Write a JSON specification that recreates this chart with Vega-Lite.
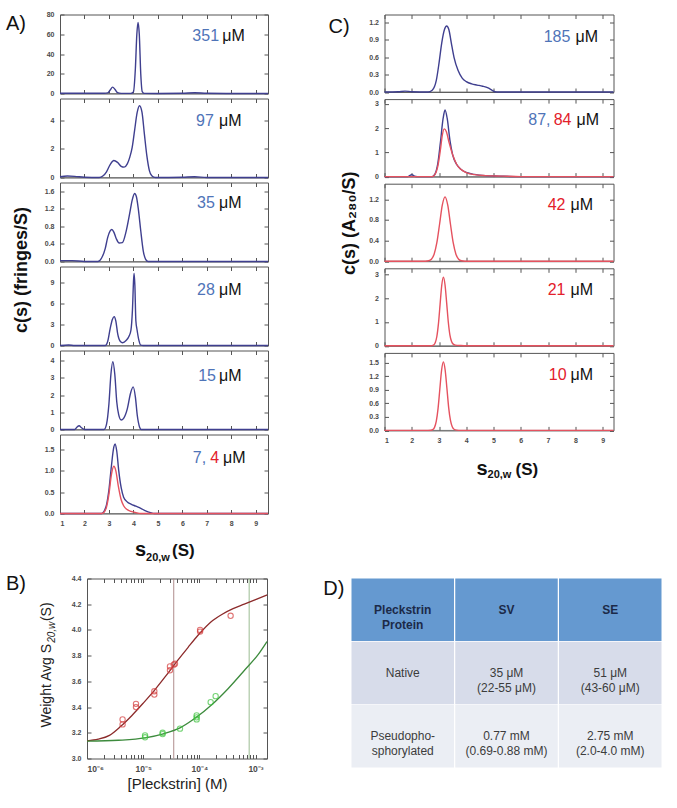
{
  "$schema": "https://vega.github.io/schema/vega-lite/v6.json",
  "padding": {"left": 5, "top": 9.5, "right": 5, "bottom": 5},
  "config": {
    "font": "Liberation Sans",
    "view": {"stroke": "#555", "strokeWidth": 1},
    "axis": {"grid": false, "domain": false, "tickColor": "#555", "tickSize": -4, "tickWidth": 1,
             "labelFontSize": 7, "labelFontWeight": "bold", "labelColor": "#4a4a4a", "labelPadding": 10}
  },
  "resolve": {"scale": {"color": "independent", "stroke": "independent", "fill": "independent"}},
  "datasets": {
    "cs": [
      {"panel":"A1","form":"Native","s":1,"c":0.3},{"panel":"A1","form":"Native","s":1.5,"c":0.3},{"panel":"A1","form":"Native","s":2,"c":0.2},{"panel":"A1","form":"Native","s":2.8,"c":0.2},{"panel":"A1","form":"Native","s":2.95,"c":0.6},{"panel":"A1","form":"Native","s":3.05,"c":3.5},{"panel":"A1","form":"Native","s":3.15,"c":6.5},{"panel":"A1","form":"Native","s":3.25,"c":4},{"panel":"A1","form":"Native","s":3.35,"c":0.8},{"panel":"A1","form":"Native","s":3.5,"c":0.1},{"panel":"A1","form":"Native","s":3.9,"c":0.1},{"panel":"A1","form":"Native","s":4.0,"c":1.5},{"panel":"A1","form":"Native","s":4.08,"c":25},{"panel":"A1","form":"Native","s":4.14,"c":60},{"panel":"A1","form":"Native","s":4.19,"c":72},{"panel":"A1","form":"Native","s":4.24,"c":60},{"panel":"A1","form":"Native","s":4.3,"c":20},{"panel":"A1","form":"Native","s":4.36,"c":2},{"panel":"A1","form":"Native","s":4.45,"c":0.1},{"panel":"A1","form":"Native","s":5,"c":0},{"panel":"A1","form":"Native","s":6,"c":0.2},{"panel":"A1","form":"Native","s":6.5,"c":0.8},{"panel":"A1","form":"Native","s":7,"c":0.2},{"panel":"A1","form":"Native","s":8,"c":0},{"panel":"A1","form":"Native","s":9.5,"c":0},

      {"panel":"A2","form":"Native","s":1,"c":0.05},{"panel":"A2","form":"Native","s":1.3,"c":0.1},{"panel":"A2","form":"Native","s":1.6,"c":0.08},{"panel":"A2","form":"Native","s":2,"c":0.02},{"panel":"A2","form":"Native","s":2.6,"c":0},{"panel":"A2","form":"Native","s":2.75,"c":0.1},{"panel":"A2","form":"Native","s":2.9,"c":0.4},{"panel":"A2","form":"Native","s":3.05,"c":0.9},{"panel":"A2","form":"Native","s":3.2,"c":1.18},{"panel":"A2","form":"Native","s":3.35,"c":1.05},{"panel":"A2","form":"Native","s":3.5,"c":0.78},{"panel":"A2","form":"Native","s":3.62,"c":0.72},{"panel":"A2","form":"Native","s":3.75,"c":0.95},{"panel":"A2","form":"Native","s":3.85,"c":1.4},{"panel":"A2","form":"Native","s":3.95,"c":2.1},{"panel":"A2","form":"Native","s":4.05,"c":3.3},{"panel":"A2","form":"Native","s":4.15,"c":4.5},{"panel":"A2","form":"Native","s":4.25,"c":5.0},{"panel":"A2","form":"Native","s":4.35,"c":4.55},{"panel":"A2","form":"Native","s":4.45,"c":3.0},{"panel":"A2","form":"Native","s":4.55,"c":1.5},{"panel":"A2","form":"Native","s":4.65,"c":0.5},{"panel":"A2","form":"Native","s":4.75,"c":0.12},{"panel":"A2","form":"Native","s":4.9,"c":0},{"panel":"A2","form":"Native","s":6,"c":0.02},{"panel":"A2","form":"Native","s":6.5,"c":0.05},{"panel":"A2","form":"Native","s":7,"c":0},{"panel":"A2","form":"Native","s":9.5,"c":0},

      {"panel":"A3","form":"Native","s":1,"c":0.02},{"panel":"A3","form":"Native","s":1.5,"c":0.02},{"panel":"A3","form":"Native","s":2,"c":0},{"panel":"A3","form":"Native","s":2.55,"c":0},{"panel":"A3","form":"Native","s":2.7,"c":0.08},{"panel":"A3","form":"Native","s":2.85,"c":0.3},{"panel":"A3","form":"Native","s":2.95,"c":0.55},{"panel":"A3","form":"Native","s":3.05,"c":0.7},{"panel":"A3","form":"Native","s":3.12,"c":0.73},{"panel":"A3","form":"Native","s":3.2,"c":0.67},{"panel":"A3","form":"Native","s":3.3,"c":0.52},{"panel":"A3","form":"Native","s":3.42,"c":0.42},{"panel":"A3","form":"Native","s":3.55,"c":0.43},{"panel":"A3","form":"Native","s":3.7,"c":0.68},{"panel":"A3","form":"Native","s":3.85,"c":1.1},{"panel":"A3","form":"Native","s":3.95,"c":1.4},{"panel":"A3","form":"Native","s":4.05,"c":1.55},{"panel":"A3","form":"Native","s":4.12,"c":1.48},{"panel":"A3","form":"Native","s":4.2,"c":1.2},{"panel":"A3","form":"Native","s":4.3,"c":0.7},{"panel":"A3","form":"Native","s":4.4,"c":0.25},{"panel":"A3","form":"Native","s":4.5,"c":0.05},{"panel":"A3","form":"Native","s":4.6,"c":0},{"panel":"A3","form":"Native","s":9.5,"c":0},

      {"panel":"A4","form":"Native","s":1,"c":0},{"panel":"A4","form":"Native","s":1.35,"c":0.08},{"panel":"A4","form":"Native","s":1.6,"c":0},{"panel":"A4","form":"Native","s":2.85,"c":0},{"panel":"A4","form":"Native","s":2.95,"c":0.6},{"panel":"A4","form":"Native","s":3.05,"c":2.4},{"panel":"A4","form":"Native","s":3.14,"c":3.7},{"panel":"A4","form":"Native","s":3.22,"c":4.1},{"panel":"A4","form":"Native","s":3.28,"c":3.5},{"panel":"A4","form":"Native","s":3.36,"c":1.6},{"panel":"A4","form":"Native","s":3.46,"c":0.6},{"panel":"A4","form":"Native","s":3.56,"c":0.4},{"panel":"A4","form":"Native","s":3.7,"c":0.7},{"panel":"A4","form":"Native","s":3.82,"c":1.3},{"panel":"A4","form":"Native","s":3.9,"c":2.2},{"panel":"A4","form":"Native","s":3.96,"c":5.0},{"panel":"A4","form":"Native","s":4.01,"c":9.5},{"panel":"A4","form":"Native","s":4.03,"c":10.2},{"panel":"A4","form":"Native","s":4.06,"c":8.5},{"panel":"A4","form":"Native","s":4.1,"c":3.5},{"panel":"A4","form":"Native","s":4.15,"c":2.2},{"panel":"A4","form":"Native","s":4.22,"c":0.8},{"panel":"A4","form":"Native","s":4.3,"c":0.05},{"panel":"A4","form":"Native","s":4.4,"c":0},{"panel":"A4","form":"Native","s":9.5,"c":0},

      {"panel":"A5","form":"Native","s":1,"c":0},{"panel":"A5","form":"Native","s":1.6,"c":0},{"panel":"A5","form":"Native","s":1.7,"c":0.15},{"panel":"A5","form":"Native","s":1.78,"c":0.22},{"panel":"A5","form":"Native","s":1.88,"c":0.1},{"panel":"A5","form":"Native","s":2.0,"c":0},{"panel":"A5","form":"Native","s":2.8,"c":0},{"panel":"A5","form":"Native","s":2.9,"c":0.3},{"panel":"A5","form":"Native","s":3.0,"c":1.5},{"panel":"A5","form":"Native","s":3.08,"c":3.2},{"panel":"A5","form":"Native","s":3.16,"c":3.95},{"panel":"A5","form":"Native","s":3.24,"c":3.2},{"panel":"A5","form":"Native","s":3.32,"c":1.6},{"panel":"A5","form":"Native","s":3.4,"c":0.85},{"panel":"A5","form":"Native","s":3.5,"c":0.55},{"panel":"A5","form":"Native","s":3.6,"c":0.65},{"panel":"A5","form":"Native","s":3.75,"c":1.2},{"panel":"A5","form":"Native","s":3.88,"c":2.1},{"panel":"A5","form":"Native","s":3.99,"c":2.48},{"panel":"A5","form":"Native","s":4.08,"c":1.9},{"panel":"A5","form":"Native","s":4.16,"c":0.8},{"panel":"A5","form":"Native","s":4.25,"c":0.15},{"panel":"A5","form":"Native","s":4.32,"c":0},{"panel":"A5","form":"Native","s":9.5,"c":0},

      {"panel":"A6","form":"Native","s":1,"c":0},{"panel":"A6","form":"Native","s":2.7,"c":0},{"panel":"A6","form":"Native","s":2.8,"c":0.05},{"panel":"A6","form":"Native","s":2.9,"c":0.2},{"panel":"A6","form":"Native","s":3.0,"c":0.55},{"panel":"A6","form":"Native","s":3.1,"c":1.1},{"panel":"A6","form":"Native","s":3.2,"c":1.55},{"panel":"A6","form":"Native","s":3.25,"c":1.62},{"panel":"A6","form":"Native","s":3.32,"c":1.45},{"panel":"A6","form":"Native","s":3.4,"c":1.0},{"panel":"A6","form":"Native","s":3.5,"c":0.6},{"panel":"A6","form":"Native","s":3.6,"c":0.38},{"panel":"A6","form":"Native","s":3.75,"c":0.27},{"panel":"A6","form":"Native","s":3.9,"c":0.22},{"panel":"A6","form":"Native","s":4.1,"c":0.17},{"panel":"A6","form":"Native","s":4.3,"c":0.12},{"panel":"A6","form":"Native","s":4.5,"c":0.06},{"panel":"A6","form":"Native","s":4.7,"c":0.02},{"panel":"A6","form":"Native","s":4.85,"c":0},{"panel":"A6","form":"Native","s":9.5,"c":0},
      {"panel":"A6","form":"Pseudophosphorylated","s":1,"c":0},{"panel":"A6","form":"Pseudophosphorylated","s":2.7,"c":0},{"panel":"A6","form":"Pseudophosphorylated","s":2.8,"c":0.03},{"panel":"A6","form":"Pseudophosphorylated","s":2.9,"c":0.15},{"panel":"A6","form":"Pseudophosphorylated","s":3.0,"c":0.45},{"panel":"A6","form":"Pseudophosphorylated","s":3.1,"c":0.9},{"panel":"A6","form":"Pseudophosphorylated","s":3.2,"c":1.1},{"panel":"A6","form":"Pseudophosphorylated","s":3.28,"c":1.0},{"panel":"A6","form":"Pseudophosphorylated","s":3.38,"c":0.65},{"panel":"A6","form":"Pseudophosphorylated","s":3.5,"c":0.32},{"panel":"A6","form":"Pseudophosphorylated","s":3.6,"c":0.18},{"panel":"A6","form":"Pseudophosphorylated","s":3.75,"c":0.09},{"panel":"A6","form":"Pseudophosphorylated","s":3.9,"c":0.05},{"panel":"A6","form":"Pseudophosphorylated","s":4.1,"c":0.02},{"panel":"A6","form":"Pseudophosphorylated","s":4.3,"c":0},{"panel":"A6","form":"Pseudophosphorylated","s":9.5,"c":0},

      {"panel":"C1","form":"Native","s":1,"c":0},{"panel":"C1","form":"Native","s":1.5,"c":0.005},{"panel":"C1","form":"Native","s":1.75,"c":0.015},{"panel":"C1","form":"Native","s":2.0,"c":0.005},{"panel":"C1","form":"Native","s":2.6,"c":0},{"panel":"C1","form":"Native","s":2.75,"c":0.03},{"panel":"C1","form":"Native","s":2.9,"c":0.2},{"panel":"C1","form":"Native","s":3.0,"c":0.5},{"panel":"C1","form":"Native","s":3.1,"c":0.85},{"panel":"C1","form":"Native","s":3.2,"c":1.08},{"panel":"C1","form":"Native","s":3.28,"c":1.14},{"panel":"C1","form":"Native","s":3.36,"c":1.08},{"panel":"C1","form":"Native","s":3.45,"c":0.85},{"panel":"C1","form":"Native","s":3.55,"c":0.6},{"panel":"C1","form":"Native","s":3.7,"c":0.37},{"panel":"C1","form":"Native","s":3.85,"c":0.24},{"panel":"C1","form":"Native","s":4.0,"c":0.18},{"panel":"C1","form":"Native","s":4.2,"c":0.14},{"panel":"C1","form":"Native","s":4.4,"c":0.12},{"panel":"C1","form":"Native","s":4.6,"c":0.1},{"panel":"C1","form":"Native","s":4.8,"c":0.07},{"panel":"C1","form":"Native","s":4.95,"c":0.03},{"panel":"C1","form":"Native","s":5.05,"c":0.005},{"panel":"C1","form":"Native","s":5.2,"c":0},{"panel":"C1","form":"Native","s":9.4,"c":0},

      {"panel":"C2","form":"Native","s":1,"c":0},{"panel":"C2","form":"Native","s":1.85,"c":0},{"panel":"C2","form":"Native","s":2.0,"c":0.08},{"panel":"C2","form":"Native","s":2.1,"c":0.02},{"panel":"C2","form":"Native","s":2.2,"c":0},{"panel":"C2","form":"Native","s":2.75,"c":0},{"panel":"C2","form":"Native","s":2.85,"c":0.1},{"panel":"C2","form":"Native","s":2.95,"c":0.5},{"panel":"C2","form":"Native","s":3.05,"c":1.4},{"panel":"C2","form":"Native","s":3.15,"c":2.4},{"panel":"C2","form":"Native","s":3.22,"c":2.75},{"panel":"C2","form":"Native","s":3.3,"c":2.4},{"panel":"C2","form":"Native","s":3.4,"c":1.5},{"panel":"C2","form":"Native","s":3.5,"c":0.9},{"panel":"C2","form":"Native","s":3.65,"c":0.5},{"panel":"C2","form":"Native","s":3.8,"c":0.3},{"panel":"C2","form":"Native","s":4.0,"c":0.17},{"panel":"C2","form":"Native","s":4.3,"c":0.09},{"panel":"C2","form":"Native","s":4.7,"c":0.04},{"panel":"C2","form":"Native","s":5.2,"c":0.02},{"panel":"C2","form":"Native","s":5.8,"c":0},{"panel":"C2","form":"Native","s":9.4,"c":0},
      {"panel":"C2","form":"Pseudophosphorylated","s":1,"c":0},{"panel":"C2","form":"Pseudophosphorylated","s":2.75,"c":0},{"panel":"C2","form":"Pseudophosphorylated","s":2.85,"c":0.08},{"panel":"C2","form":"Pseudophosphorylated","s":2.95,"c":0.4},{"panel":"C2","form":"Pseudophosphorylated","s":3.05,"c":1.1},{"panel":"C2","form":"Pseudophosphorylated","s":3.12,"c":1.7},{"panel":"C2","form":"Pseudophosphorylated","s":3.19,"c":1.97},{"panel":"C2","form":"Pseudophosphorylated","s":3.27,"c":1.85},{"panel":"C2","form":"Pseudophosphorylated","s":3.37,"c":1.4},{"panel":"C2","form":"Pseudophosphorylated","s":3.5,"c":0.9},{"panel":"C2","form":"Pseudophosphorylated","s":3.65,"c":0.5},{"panel":"C2","form":"Pseudophosphorylated","s":3.8,"c":0.3},{"panel":"C2","form":"Pseudophosphorylated","s":4.0,"c":0.16},{"panel":"C2","form":"Pseudophosphorylated","s":4.3,"c":0.08},{"panel":"C2","form":"Pseudophosphorylated","s":4.7,"c":0.04},{"panel":"C2","form":"Pseudophosphorylated","s":5.3,"c":0.02},{"panel":"C2","form":"Pseudophosphorylated","s":6,"c":0},{"panel":"C2","form":"Pseudophosphorylated","s":9.4,"c":0},

      {"panel":"C3","form":"Pseudophosphorylated","s":1,"c":0},{"panel":"C3","form":"Pseudophosphorylated","s":2.5,"c":0},{"panel":"C3","form":"Pseudophosphorylated","s":2.62,"c":0.008},{"panel":"C3","form":"Pseudophosphorylated","s":2.72,"c":0.039},{"panel":"C3","form":"Pseudophosphorylated","s":2.82,"c":0.136},{"panel":"C3","form":"Pseudophosphorylated","s":2.92,"c":0.358},{"panel":"C3","form":"Pseudophosphorylated","s":3.02,"c":0.715},{"panel":"C3","form":"Pseudophosphorylated","s":3.12,"c":1.084},{"panel":"C3","form":"Pseudophosphorylated","s":3.22,"c":1.245},{"panel":"C3","form":"Pseudophosphorylated","s":3.32,"c":1.084},{"panel":"C3","form":"Pseudophosphorylated","s":3.42,"c":0.715},{"panel":"C3","form":"Pseudophosphorylated","s":3.52,"c":0.358},{"panel":"C3","form":"Pseudophosphorylated","s":3.62,"c":0.136},{"panel":"C3","form":"Pseudophosphorylated","s":3.72,"c":0.039},{"panel":"C3","form":"Pseudophosphorylated","s":3.82,"c":0.008},{"panel":"C3","form":"Pseudophosphorylated","s":3.95,"c":0},{"panel":"C3","form":"Pseudophosphorylated","s":9.4,"c":0},

      {"panel":"C4","form":"Pseudophosphorylated","s":1,"c":0},{"panel":"C4","form":"Pseudophosphorylated","s":2.7,"c":0},{"panel":"C4","form":"Pseudophosphorylated","s":2.74,"c":0.01},{"panel":"C4","form":"Pseudophosphorylated","s":2.8,"c":0.032},{"panel":"C4","form":"Pseudophosphorylated","s":2.86,"c":0.127},{"panel":"C4","form":"Pseudophosphorylated","s":2.92,"c":0.39},{"panel":"C4","form":"Pseudophosphorylated","s":2.98,"c":0.94},{"panel":"C4","form":"Pseudophosphorylated","s":3.04,"c":1.75},{"panel":"C4","form":"Pseudophosphorylated","s":3.1,"c":2.54},{"panel":"C4","form":"Pseudophosphorylated","s":3.16,"c":2.88},{"panel":"C4","form":"Pseudophosphorylated","s":3.22,"c":2.56},{"panel":"C4","form":"Pseudophosphorylated","s":3.28,"c":1.8},{"panel":"C4","form":"Pseudophosphorylated","s":3.34,"c":1.0},{"panel":"C4","form":"Pseudophosphorylated","s":3.4,"c":0.45},{"panel":"C4","form":"Pseudophosphorylated","s":3.46,"c":0.18},{"panel":"C4","form":"Pseudophosphorylated","s":3.52,"c":0.07},{"panel":"C4","form":"Pseudophosphorylated","s":3.6,"c":0.03},{"panel":"C4","form":"Pseudophosphorylated","s":3.8,"c":0.01},{"panel":"C4","form":"Pseudophosphorylated","s":4.0,"c":0},{"panel":"C4","form":"Pseudophosphorylated","s":9.4,"c":0},

      {"panel":"C5","form":"Pseudophosphorylated","s":1,"c":0},{"panel":"C5","form":"Pseudophosphorylated","s":2.6,"c":0},{"panel":"C5","form":"Pseudophosphorylated","s":2.7,"c":0.003},{"panel":"C5","form":"Pseudophosphorylated","s":2.77,"c":0.017},{"panel":"C5","form":"Pseudophosphorylated","s":2.835,"c":0.067},{"panel":"C5","form":"Pseudophosphorylated","s":2.9,"c":0.205},{"panel":"C5","form":"Pseudophosphorylated","s":2.965,"c":0.49},{"panel":"C5","form":"Pseudophosphorylated","s":3.03,"c":0.92},{"panel":"C5","form":"Pseudophosphorylated","s":3.095,"c":1.34},{"panel":"C5","form":"Pseudophosphorylated","s":3.16,"c":1.52},{"panel":"C5","form":"Pseudophosphorylated","s":3.225,"c":1.34},{"panel":"C5","form":"Pseudophosphorylated","s":3.29,"c":0.93},{"panel":"C5","form":"Pseudophosphorylated","s":3.355,"c":0.5},{"panel":"C5","form":"Pseudophosphorylated","s":3.42,"c":0.22},{"panel":"C5","form":"Pseudophosphorylated","s":3.485,"c":0.08},{"panel":"C5","form":"Pseudophosphorylated","s":3.55,"c":0.025},{"panel":"C5","form":"Pseudophosphorylated","s":3.65,"c":0.005},{"panel":"C5","form":"Pseudophosphorylated","s":3.8,"c":0},{"panel":"C5","form":"Pseudophosphorylated","s":9.4,"c":0}
    ],
    "tags": [
      {"panel":"A1","part":"num","form":"Native","text":"351","s":7.5,"c":52.7},
      {"panel":"A1","part":"unit","text":"μM","s":7.63,"c":52.7},
      {"panel":"A1","part":"tag","text":"A)","s":-1.207,"c":64.8},
      {"panel":"A2","part":"num","form":"Native","text":"97","s":7.29,"c":3.62},
      {"panel":"A2","part":"unit","text":"μM","s":7.5,"c":3.62},
      {"panel":"A3","part":"num","form":"Native","text":"35","s":7.33,"c":1.21},
      {"panel":"A3","part":"unit","text":"μM","s":7.5,"c":1.21},
      {"panel":"A4","part":"num","form":"Native","text":"28","s":7.33,"c":7.23},
      {"panel":"A4","part":"unit","text":"μM","s":7.5,"c":7.23},
      {"panel":"A5","part":"num","form":"Native","text":"15","s":7.375,"c":2.85},
      {"panel":"A5","part":"unit","text":"μM","s":7.5,"c":2.85},
      {"panel":"A6","part":"num","form":"Native","text":"7,","s":6.97,"c":1.165},
      {"panel":"A6","part":"num","form":"Pseudophosphorylated","text":"4","s":7.5,"c":1.165},
      {"panel":"A6","part":"unit","text":"μM","s":7.66,"c":1.165},
      {"panel":"A6","part":"xs","text":"s","s":4.515,"c":-1.0},
      {"panel":"A6","part":"xsub","text":"20,w","s":4.515,"c":-1.095},
      {"panel":"A6","part":"xunit","text":"(S)","s":5.577,"c":-1.0},
      {"panel":"C1","part":"num","form":"Native","text":"185","s":7.82,"c":0.862},
      {"panel":"C1","part":"unit","text":"μM","s":8.01,"c":0.862},
      {"panel":"C1","part":"tag","text":"C)","s":-1.054,"c":1.027},
      {"panel":"C2","part":"num","form":"Native","text":"87,","s":7.09,"c":2.14},
      {"panel":"C2","part":"num","form":"Pseudophosphorylated","text":"84","s":7.86,"c":2.14},
      {"panel":"C2","part":"unit","text":"μM","s":8.04,"c":2.14},
      {"panel":"C3","part":"num","form":"Pseudophosphorylated","text":"42","s":7.64,"c":0.984},
      {"panel":"C3","part":"unit","text":"μM","s":7.82,"c":0.984},
      {"panel":"C4","part":"num","form":"Pseudophosphorylated","text":"21","s":7.64,"c":2.13},
      {"panel":"C4","part":"unit","text":"μM","s":7.82,"c":2.13},
      {"panel":"C5","part":"num","form":"Pseudophosphorylated","text":"10","s":7.68,"c":1.128},
      {"panel":"C5","part":"unit","text":"μM","s":7.82,"c":1.128},
      {"panel":"C5","part":"xs","text":"s","s":4.78,"c":-0.98},
      {"panel":"C5","part":"xsub","text":"20,w","s":4.78,"c":-1.067},
      {"panel":"C5","part":"xunit","text":"(S)","s":5.805,"c":-0.98}
    ],
    "sw": [
      {"form":"Native","conc":4.3e-6,"sw":3.304},{"form":"Native","conc":4.3e-6,"sw":3.265},
      {"form":"Native","conc":7.45e-6,"sw":3.425},{"form":"Native","conc":7.45e-6,"sw":3.4},
      {"form":"Native","conc":1.58e-5,"sw":3.523},{"form":"Native","conc":1.58e-5,"sw":3.497},
      {"form":"Native","conc":3.0e-5,"sw":3.716},{"form":"Native","conc":3.0e-5,"sw":3.686},
      {"form":"Native","conc":3.68e-5,"sw":3.737},{"form":"Native","conc":3.5e-5,"sw":3.73},
      {"form":"Native","conc":1.03e-4,"sw":4.0},{"form":"Native","conc":1.03e-4,"sw":3.987},
      {"form":"Native","conc":3.6e-4,"sw":4.11},
      {"form":"Pseudophosphorylated","conc":1.08e-5,"sw":3.18},{"form":"Pseudophosphorylated","conc":1.08e-5,"sw":3.165},
      {"form":"Pseudophosphorylated","conc":2.22e-5,"sw":3.2},{"form":"Pseudophosphorylated","conc":2.22e-5,"sw":3.19},
      {"form":"Pseudophosphorylated","conc":4.52e-5,"sw":3.232},
      {"form":"Pseudophosphorylated","conc":8.95e-5,"sw":3.335},{"form":"Pseudophosphorylated","conc":8.95e-5,"sw":3.304},{"form":"Pseudophosphorylated","conc":8.95e-5,"sw":3.32},
      {"form":"Pseudophosphorylated","conc":1.59e-4,"sw":3.438},{"form":"Pseudophosphorylated","conc":1.95e-4,"sw":3.485}
    ],
    "fits": [
      {"form":"Native","conc":1e-6,"sw":3.137},{"form":"Native","conc":1.585e-6,"sw":3.15},{"form":"Native","conc":2.512e-6,"sw":3.18},{"form":"Native","conc":3.981e-6,"sw":3.25},{"form":"Native","conc":6.31e-6,"sw":3.335},{"form":"Native","conc":1e-5,"sw":3.43},{"form":"Native","conc":1.585e-5,"sw":3.53},{"form":"Native","conc":2.512e-5,"sw":3.64},{"form":"Native","conc":3.981e-5,"sw":3.755},{"form":"Native","conc":6.31e-5,"sw":3.865},{"form":"Native","conc":1e-4,"sw":3.97},{"form":"Native","conc":1.585e-4,"sw":4.06},{"form":"Native","conc":2.512e-4,"sw":4.12},{"form":"Native","conc":3.981e-4,"sw":4.165},{"form":"Native","conc":6.31e-4,"sw":4.2},{"form":"Native","conc":1e-3,"sw":4.235},{"form":"Native","conc":1.6e-3,"sw":4.272},
      {"form":"Pseudophosphorylated","conc":1e-6,"sw":3.135},{"form":"Pseudophosphorylated","conc":3.61e-6,"sw":3.142},{"form":"Pseudophosphorylated","conc":1.076e-5,"sw":3.16},{"form":"Pseudophosphorylated","conc":2.28e-5,"sw":3.192},{"form":"Pseudophosphorylated","conc":4.52e-5,"sw":3.238},{"form":"Pseudophosphorylated","conc":8.95e-5,"sw":3.322},{"form":"Pseudophosphorylated","conc":1.66e-4,"sw":3.418},{"form":"Pseudophosphorylated","conc":3.27e-4,"sw":3.545},{"form":"Pseudophosphorylated","conc":6.47e-4,"sw":3.69},{"form":"Pseudophosphorylated","conc":1.12e-3,"sw":3.81},{"form":"Pseudophosphorylated","conc":1.6e-3,"sw":3.91}
    ],
    "table": [
      {"row":"Pleckstrin Protein","col":"Protein","text":"Pleckstrin\nProtein"},
      {"row":"Pleckstrin Protein","col":"SV","text":"SV"},
      {"row":"Pleckstrin Protein","col":"SE","text":"SE"},
      {"row":"Native","col":"Protein","text":"Native"},
      {"row":"Native","col":"SV","text":"35 μM\n(22-55 μM)"},
      {"row":"Native","col":"SE","text":"51 μM\n(43-60 μM)"},
      {"row":"Pseudophosphorylated","col":"Protein","text":"Pseudopho-\nsphorylated"},
      {"row":"Pseudophosphorylated","col":"SV","text":"0.77 mM\n(0.69-0.88 mM)"},
      {"row":"Pseudophosphorylated","col":"SE","text":"2.75 mM\n(2.0-4.0 mM)"}
    ]
  },
  "vconcat": [
    {
      "resolve": {"scale": {"color": "independent", "stroke": "independent", "fill": "independent"}},
      "hconcat": [
        {
          "vconcat": [
            {
              "width": 208, "height": 79,
              "resolve": {"axis": {"x": "independent", "y": "independent"}},
              "layer": [
                {"data": {"values": [{}]}, "mark": {"type": "rule", "color": "#707070", "strokeWidth": 0.8}, "encoding": {"y": {"datum": 0, "type": "quantitative", "axis": null}}},
                {"data": {"name": "cs"}, "transform": [{"filter": "datum.panel === 'A1'"}], "mark": {"type": "line", "strokeWidth": 1.4, "interpolate": "monotone"},
                 "encoding": {"x": {"field": "s", "type": "quantitative", "scale": {"domain": [1, 9.5], "nice": false, "zero": false}, "axis": {"orient": "bottom", "values": [1,2,3,4,5,6,7,8,9], "labels": false, "title": null}},
                              "y": {"field": "c", "type": "quantitative", "scale": {"domain": [0, 80], "nice": false}, "axis": {"orient": "left", "values": [0,20,40,60,80], "title": null}},
                              "color": {"field": "form", "type": "nominal", "scale": {"domain": ["Native","Pseudophosphorylated"], "range": ["#3f3f8f","#e5525f"]}, "legend": null}}},
                {"data": {"name": "tags"}, "transform": [{"filter": "datum.panel === 'A1' && datum.part === 'num'"}], "mark": {"type": "text", "align": "right", "baseline": "alphabetic", "fontSize": 16},
                 "encoding": {"x": {"field": "s", "type": "quantitative", "axis": {"orient": "top", "values": [1,2,3,4,5,6,7,8,9], "labels": false, "title": null}},
                              "y": {"field": "c", "type": "quantitative", "axis": {"orient": "right", "values": [0,20,40,60,80], "labels": false, "title": null}},
                              "text": {"field": "text", "type": "nominal"},
                              "fill": {"field": "form", "type": "nominal", "scale": {"domain": ["Native","Pseudophosphorylated"], "range": ["#4f74b8","#e3202b"]}, "legend": null}}},
                {"data": {"name": "tags"}, "transform": [{"filter": "datum.panel === 'A1' && datum.part === 'unit'"}], "mark": {"type": "text", "align": "left", "baseline": "alphabetic", "fontSize": 16, "color": "#111"},
                 "encoding": {"x": {"field": "s", "type": "quantitative", "axis": null}, "y": {"field": "c", "type": "quantitative", "axis": null}, "text": {"field": "text", "type": "nominal"}}},
                {"data": {"name": "tags"}, "transform": [{"filter": "datum.panel === 'A1' && datum.part === 'tag'"}], "mark": {"type": "text", "align": "left", "baseline": "alphabetic", "fontSize": 20, "color": "#111"},
                 "encoding": {"x": {"field": "s", "type": "quantitative", "axis": null}, "y": {"field": "c", "type": "quantitative", "axis": null}, "text": {"field": "text", "type": "nominal"}}}
              ]
            },
            {
              "width": 208, "height": 79,
              "resolve": {"axis": {"x": "independent", "y": "independent"}},
              "layer": [
                {"data": {"values": [{}]}, "mark": {"type": "rule", "color": "#707070", "strokeWidth": 0.8}, "encoding": {"y": {"datum": 0, "type": "quantitative", "axis": null}}},
                {"data": {"name": "cs"}, "transform": [{"filter": "datum.panel === 'A2'"}], "mark": {"type": "line", "strokeWidth": 1.4, "interpolate": "monotone"},
                 "encoding": {"x": {"field": "s", "type": "quantitative", "scale": {"domain": [1, 9.5], "nice": false, "zero": false}, "axis": {"orient": "bottom", "values": [1,2,3,4,5,6,7,8,9], "labels": false, "title": null}},
                              "y": {"field": "c", "type": "quantitative", "scale": {"domain": [0, 5.5], "nice": false}, "axis": {"orient": "left", "values": [0,2,4], "title": null}},
                              "color": {"field": "form", "type": "nominal", "scale": {"domain": ["Native","Pseudophosphorylated"], "range": ["#3f3f8f","#e5525f"]}, "legend": null}}},
                {"data": {"name": "tags"}, "transform": [{"filter": "datum.panel === 'A2' && datum.part === 'num'"}], "mark": {"type": "text", "align": "right", "baseline": "alphabetic", "fontSize": 16},
                 "encoding": {"x": {"field": "s", "type": "quantitative", "axis": {"orient": "top", "values": [1,2,3,4,5,6,7,8,9], "labels": false, "title": null}},
                              "y": {"field": "c", "type": "quantitative", "axis": {"orient": "right", "values": [0,2,4], "labels": false, "title": null}},
                              "text": {"field": "text", "type": "nominal"},
                              "fill": {"field": "form", "type": "nominal", "scale": {"domain": ["Native","Pseudophosphorylated"], "range": ["#4f74b8","#e3202b"]}, "legend": null}}},
                {"data": {"name": "tags"}, "transform": [{"filter": "datum.panel === 'A2' && datum.part === 'unit'"}], "mark": {"type": "text", "align": "left", "baseline": "alphabetic", "fontSize": 16, "color": "#111"},
                 "encoding": {"x": {"field": "s", "type": "quantitative", "axis": null}, "y": {"field": "c", "type": "quantitative", "axis": null}, "text": {"field": "text", "type": "nominal"}}}
              ]
            },
            {
              "width": 208, "height": 79,
              "resolve": {"axis": {"x": "independent", "y": "independent"}},
              "layer": [
                {"data": {"values": [{}]}, "mark": {"type": "rule", "color": "#707070", "strokeWidth": 0.8}, "encoding": {"y": {"datum": 0, "type": "quantitative", "axis": null}}},
                {"data": {"name": "cs"}, "transform": [{"filter": "datum.panel === 'A3'"}], "mark": {"type": "line", "strokeWidth": 1.4, "interpolate": "monotone"},
                 "encoding": {"x": {"field": "s", "type": "quantitative", "scale": {"domain": [1, 9.5], "nice": false, "zero": false}, "axis": {"orient": "bottom", "values": [1,2,3,4,5,6,7,8,9], "labels": false, "title": null}},
                              "y": {"field": "c", "type": "quantitative", "scale": {"domain": [0, 1.8], "nice": false}, "axis": {"orient": "left", "values": [0,0.4,0.8,1.2,1.6], "format": ".1f", "title": "c(s) (fringes/S)", "titleFontSize": 18, "titleFontWeight": "bold", "titleColor": "#111", "titleX": -30, "titleY": 87, "titleAngle": 270, "titleAlign": "center", "titleBaseline": "bottom"}},
                              "color": {"field": "form", "type": "nominal", "scale": {"domain": ["Native","Pseudophosphorylated"], "range": ["#3f3f8f","#e5525f"]}, "legend": null}}},
                {"data": {"name": "tags"}, "transform": [{"filter": "datum.panel === 'A3' && datum.part === 'num'"}], "mark": {"type": "text", "align": "right", "baseline": "alphabetic", "fontSize": 16},
                 "encoding": {"x": {"field": "s", "type": "quantitative", "axis": {"orient": "top", "values": [1,2,3,4,5,6,7,8,9], "labels": false, "title": null}},
                              "y": {"field": "c", "type": "quantitative", "axis": {"orient": "right", "values": [0,0.4,0.8,1.2,1.6], "labels": false, "title": null}},
                              "text": {"field": "text", "type": "nominal"},
                              "fill": {"field": "form", "type": "nominal", "scale": {"domain": ["Native","Pseudophosphorylated"], "range": ["#4f74b8","#e3202b"]}, "legend": null}}},
                {"data": {"name": "tags"}, "transform": [{"filter": "datum.panel === 'A3' && datum.part === 'unit'"}], "mark": {"type": "text", "align": "left", "baseline": "alphabetic", "fontSize": 16, "color": "#111"},
                 "encoding": {"x": {"field": "s", "type": "quantitative", "axis": null}, "y": {"field": "c", "type": "quantitative", "axis": null}, "text": {"field": "text", "type": "nominal"}}}
              ]
            },
            {
              "width": 208, "height": 79,
              "resolve": {"axis": {"x": "independent", "y": "independent"}},
              "layer": [
                {"data": {"values": [{}]}, "mark": {"type": "rule", "color": "#707070", "strokeWidth": 0.8}, "encoding": {"y": {"datum": 0, "type": "quantitative", "axis": null}}},
                {"data": {"name": "cs"}, "transform": [{"filter": "datum.panel === 'A4'"}], "mark": {"type": "line", "strokeWidth": 1.4, "interpolate": "monotone"},
                 "encoding": {"x": {"field": "s", "type": "quantitative", "scale": {"domain": [1, 9.5], "nice": false, "zero": false}, "axis": {"orient": "bottom", "values": [1,2,3,4,5,6,7,8,9], "labels": false, "title": null}},
                              "y": {"field": "c", "type": "quantitative", "scale": {"domain": [0, 11.2], "nice": false}, "axis": {"orient": "left", "values": [0,3,6,9], "title": null}},
                              "color": {"field": "form", "type": "nominal", "scale": {"domain": ["Native","Pseudophosphorylated"], "range": ["#3f3f8f","#e5525f"]}, "legend": null}}},
                {"data": {"name": "tags"}, "transform": [{"filter": "datum.panel === 'A4' && datum.part === 'num'"}], "mark": {"type": "text", "align": "right", "baseline": "alphabetic", "fontSize": 16},
                 "encoding": {"x": {"field": "s", "type": "quantitative", "axis": {"orient": "top", "values": [1,2,3,4,5,6,7,8,9], "labels": false, "title": null}},
                              "y": {"field": "c", "type": "quantitative", "axis": {"orient": "right", "values": [0,3,6,9], "labels": false, "title": null}},
                              "text": {"field": "text", "type": "nominal"},
                              "fill": {"field": "form", "type": "nominal", "scale": {"domain": ["Native","Pseudophosphorylated"], "range": ["#4f74b8","#e3202b"]}, "legend": null}}},
                {"data": {"name": "tags"}, "transform": [{"filter": "datum.panel === 'A4' && datum.part === 'unit'"}], "mark": {"type": "text", "align": "left", "baseline": "alphabetic", "fontSize": 16, "color": "#111"},
                 "encoding": {"x": {"field": "s", "type": "quantitative", "axis": null}, "y": {"field": "c", "type": "quantitative", "axis": null}, "text": {"field": "text", "type": "nominal"}}}
              ]
            },
            {
              "width": 208, "height": 79,
              "resolve": {"axis": {"x": "independent", "y": "independent"}},
              "layer": [
                {"data": {"values": [{}]}, "mark": {"type": "rule", "color": "#707070", "strokeWidth": 0.8}, "encoding": {"y": {"datum": 0, "type": "quantitative", "axis": null}}},
                {"data": {"name": "cs"}, "transform": [{"filter": "datum.panel === 'A5'"}], "mark": {"type": "line", "strokeWidth": 1.4, "interpolate": "monotone"},
                 "encoding": {"x": {"field": "s", "type": "quantitative", "scale": {"domain": [1, 9.5], "nice": false, "zero": false}, "axis": {"orient": "bottom", "values": [1,2,3,4,5,6,7,8,9], "labels": false, "title": null}},
                              "y": {"field": "c", "type": "quantitative", "scale": {"domain": [0, 4.6], "nice": false}, "axis": {"orient": "left", "values": [0,1,2,3,4], "title": null}},
                              "color": {"field": "form", "type": "nominal", "scale": {"domain": ["Native","Pseudophosphorylated"], "range": ["#3f3f8f","#e5525f"]}, "legend": null}}},
                {"data": {"name": "tags"}, "transform": [{"filter": "datum.panel === 'A5' && datum.part === 'num'"}], "mark": {"type": "text", "align": "right", "baseline": "alphabetic", "fontSize": 16},
                 "encoding": {"x": {"field": "s", "type": "quantitative", "axis": {"orient": "top", "values": [1,2,3,4,5,6,7,8,9], "labels": false, "title": null}},
                              "y": {"field": "c", "type": "quantitative", "axis": {"orient": "right", "values": [0,1,2,3,4], "labels": false, "title": null}},
                              "text": {"field": "text", "type": "nominal"},
                              "fill": {"field": "form", "type": "nominal", "scale": {"domain": ["Native","Pseudophosphorylated"], "range": ["#4f74b8","#e3202b"]}, "legend": null}}},
                {"data": {"name": "tags"}, "transform": [{"filter": "datum.panel === 'A5' && datum.part === 'unit'"}], "mark": {"type": "text", "align": "left", "baseline": "alphabetic", "fontSize": 16, "color": "#111"},
                 "encoding": {"x": {"field": "s", "type": "quantitative", "axis": null}, "y": {"field": "c", "type": "quantitative", "axis": null}, "text": {"field": "text", "type": "nominal"}}}
              ]
            },
            {
              "width": 208, "height": 79,
              "resolve": {"axis": {"x": "independent", "y": "independent"}},
              "layer": [
                {"data": {"values": [{}]}, "mark": {"type": "rule", "color": "#707070", "strokeWidth": 0.8}, "encoding": {"y": {"datum": 0, "type": "quantitative", "axis": null}}},
                {"data": {"name": "cs"}, "transform": [{"filter": "datum.panel === 'A6'"}], "mark": {"type": "line", "strokeWidth": 1.4, "interpolate": "monotone"},
                 "encoding": {"x": {"field": "s", "type": "quantitative", "scale": {"domain": [1, 9.5], "nice": false, "zero": false}, "axis": {"orient": "bottom", "values": [1,2,3,4,5,6,7,8,9], "labels": true, "title": null}},
                              "y": {"field": "c", "type": "quantitative", "scale": {"domain": [0, 1.84], "nice": false}, "axis": {"orient": "left", "values": [0,0.5,1,1.5], "format": ".1f", "title": null}},
                              "color": {"field": "form", "type": "nominal", "scale": {"domain": ["Native","Pseudophosphorylated"], "range": ["#3f3f8f","#e5525f"]}, "legend": null}}},
                {"data": {"name": "tags"}, "transform": [{"filter": "datum.panel === 'A6' && datum.part === 'num'"}], "mark": {"type": "text", "align": "right", "baseline": "alphabetic", "fontSize": 16},
                 "encoding": {"x": {"field": "s", "type": "quantitative", "axis": {"orient": "top", "values": [1,2,3,4,5,6,7,8,9], "labels": false, "title": null}},
                              "y": {"field": "c", "type": "quantitative", "axis": {"orient": "right", "values": [0,0.5,1,1.5], "labels": false, "title": null}},
                              "text": {"field": "text", "type": "nominal"},
                              "fill": {"field": "form", "type": "nominal", "scale": {"domain": ["Native","Pseudophosphorylated"], "range": ["#4f74b8","#e3202b"]}, "legend": null}}},
                {"data": {"name": "tags"}, "transform": [{"filter": "datum.panel === 'A6' && datum.part === 'unit'"}], "mark": {"type": "text", "align": "left", "baseline": "alphabetic", "fontSize": 16, "color": "#111"},
                 "encoding": {"x": {"field": "s", "type": "quantitative", "axis": null}, "y": {"field": "c", "type": "quantitative", "axis": null}, "text": {"field": "text", "type": "nominal"}}},
                {"data": {"name": "tags"}, "transform": [{"filter": "datum.panel === 'A6' && datum.part === 'xs'"}], "mark": {"type": "text", "align": "right", "baseline": "alphabetic", "fontSize": 20, "fontWeight": "bold", "color": "#111"},
                 "encoding": {"x": {"field": "s", "type": "quantitative", "axis": null}, "y": {"field": "c", "type": "quantitative", "axis": null}, "text": {"field": "text", "type": "nominal"}}},
                {"data": {"name": "tags"}, "transform": [{"filter": "datum.panel === 'A6' && datum.part === 'xsub'"}], "mark": {"type": "text", "align": "left", "baseline": "alphabetic", "fontSize": 11, "fontWeight": "bold", "color": "#111"},
                 "encoding": {"x": {"field": "s", "type": "quantitative", "axis": null}, "y": {"field": "c", "type": "quantitative", "axis": null}, "text": {"field": "text", "type": "nominal"}}},
                {"data": {"name": "tags"}, "transform": [{"filter": "datum.panel === 'A6' && datum.part === 'xunit'"}], "mark": {"type": "text", "align": "left", "baseline": "alphabetic", "fontSize": 17, "fontWeight": "bold", "color": "#111"},
                 "encoding": {"x": {"field": "s", "type": "quantitative", "axis": null}, "y": {"field": "c", "type": "quantitative", "axis": null}, "text": {"field": "text", "type": "nominal"}}}
              ]
            }
          ],
          "spacing": 5,
          "bounds": "flush"
        },
        {
          "vconcat": [
            {
              "width": 229, "height": 77.5,
              "resolve": {"axis": {"x": "independent", "y": "independent"}},
              "layer": [
                {"data": {"values": [{}]}, "mark": {"type": "rule", "color": "#707070", "strokeWidth": 0.8}, "encoding": {"y": {"datum": 0, "type": "quantitative", "axis": null}}},
                {"data": {"name": "cs"}, "transform": [{"filter": "datum.panel === 'C1'"}], "mark": {"type": "line", "strokeWidth": 1.4, "interpolate": "monotone"},
                 "encoding": {"x": {"field": "s", "type": "quantitative", "scale": {"domain": [1, 9.4], "nice": false, "zero": false}, "axis": {"orient": "bottom", "values": [1,2,3,4,5,6,7,8,9], "labels": false, "title": null}},
                              "y": {"field": "c", "type": "quantitative", "scale": {"domain": [0, 1.34], "nice": false}, "axis": {"orient": "left", "values": [0,0.3,0.6,0.9,1.2], "format": ".1f", "title": null}},
                              "color": {"field": "form", "type": "nominal", "scale": {"domain": ["Native","Pseudophosphorylated"], "range": ["#3f3f8f","#e5525f"]}, "legend": null}}},
                {"data": {"name": "tags"}, "transform": [{"filter": "datum.panel === 'C1' && datum.part === 'num'"}], "mark": {"type": "text", "align": "right", "baseline": "alphabetic", "fontSize": 16},
                 "encoding": {"x": {"field": "s", "type": "quantitative", "axis": {"orient": "top", "values": [1,2,3,4,5,6,7,8,9], "labels": false, "title": null}},
                              "y": {"field": "c", "type": "quantitative", "axis": {"orient": "right", "values": [0,0.3,0.6,0.9,1.2], "labels": false, "title": null}},
                              "text": {"field": "text", "type": "nominal"},
                              "fill": {"field": "form", "type": "nominal", "scale": {"domain": ["Native","Pseudophosphorylated"], "range": ["#4f74b8","#e3202b"]}, "legend": null}}},
                {"data": {"name": "tags"}, "transform": [{"filter": "datum.panel === 'C1' && datum.part === 'unit'"}], "mark": {"type": "text", "align": "left", "baseline": "alphabetic", "fontSize": 16, "color": "#111"},
                 "encoding": {"x": {"field": "s", "type": "quantitative", "axis": null}, "y": {"field": "c", "type": "quantitative", "axis": null}, "text": {"field": "text", "type": "nominal"}}},
                {"data": {"name": "tags"}, "transform": [{"filter": "datum.panel === 'C1' && datum.part === 'tag'"}], "mark": {"type": "text", "align": "left", "baseline": "alphabetic", "fontSize": 20, "color": "#111"},
                 "encoding": {"x": {"field": "s", "type": "quantitative", "axis": null}, "y": {"field": "c", "type": "quantitative", "axis": null}, "text": {"field": "text", "type": "nominal"}}}
              ]
            },
            {
              "width": 229, "height": 77.5,
              "resolve": {"axis": {"x": "independent", "y": "independent"}},
              "layer": [
                {"data": {"values": [{}]}, "mark": {"type": "rule", "color": "#707070", "strokeWidth": 0.8}, "encoding": {"y": {"datum": 0, "type": "quantitative", "axis": null}}},
                {"data": {"name": "cs"}, "transform": [{"filter": "datum.panel === 'C2'"}], "mark": {"type": "line", "strokeWidth": 1.4, "interpolate": "monotone"},
                 "encoding": {"x": {"field": "s", "type": "quantitative", "scale": {"domain": [1, 9.4], "nice": false, "zero": false}, "axis": {"orient": "bottom", "values": [1,2,3,4,5,6,7,8,9], "labels": false, "title": null}},
                              "y": {"field": "c", "type": "quantitative", "scale": {"domain": [0, 3.2], "nice": false}, "axis": {"orient": "left", "values": [0,1,2,3], "title": null}},
                              "color": {"field": "form", "type": "nominal", "scale": {"domain": ["Native","Pseudophosphorylated"], "range": ["#3f3f8f","#e5525f"]}, "legend": null}}},
                {"data": {"name": "tags"}, "transform": [{"filter": "datum.panel === 'C2' && datum.part === 'num'"}], "mark": {"type": "text", "align": "right", "baseline": "alphabetic", "fontSize": 16},
                 "encoding": {"x": {"field": "s", "type": "quantitative", "axis": {"orient": "top", "values": [1,2,3,4,5,6,7,8,9], "labels": false, "title": null}},
                              "y": {"field": "c", "type": "quantitative", "axis": {"orient": "right", "values": [0,1,2,3], "labels": false, "title": null}},
                              "text": {"field": "text", "type": "nominal"},
                              "fill": {"field": "form", "type": "nominal", "scale": {"domain": ["Native","Pseudophosphorylated"], "range": ["#4f74b8","#e3202b"]}, "legend": null}}},
                {"data": {"name": "tags"}, "transform": [{"filter": "datum.panel === 'C2' && datum.part === 'unit'"}], "mark": {"type": "text", "align": "left", "baseline": "alphabetic", "fontSize": 16, "color": "#111"},
                 "encoding": {"x": {"field": "s", "type": "quantitative", "axis": null}, "y": {"field": "c", "type": "quantitative", "axis": null}, "text": {"field": "text", "type": "nominal"}}}
              ]
            },
            {
              "width": 229, "height": 77.5,
              "resolve": {"axis": {"x": "independent", "y": "independent"}},
              "layer": [
                {"data": {"values": [{}]}, "mark": {"type": "rule", "color": "#707070", "strokeWidth": 0.8}, "encoding": {"y": {"datum": 0, "type": "quantitative", "axis": null}}},
                {"data": {"name": "cs"}, "transform": [{"filter": "datum.panel === 'C3'"}], "mark": {"type": "line", "strokeWidth": 1.4, "interpolate": "monotone"},
                 "encoding": {"x": {"field": "s", "type": "quantitative", "scale": {"domain": [1, 9.4], "nice": false, "zero": false}, "axis": {"orient": "bottom", "values": [1,2,3,4,5,6,7,8,9], "labels": false, "title": null}},
                              "y": {"field": "c", "type": "quantitative", "scale": {"domain": [0, 1.5], "nice": false}, "axis": {"orient": "left", "values": [0,0.4,0.8,1.2], "format": ".1f", "title": "c(s) (A₂₈₀/S)", "titleFontSize": 18, "titleFontWeight": "bold", "titleColor": "#111", "titleX": -26, "titleY": 39, "titleAngle": 270, "titleAlign": "center", "titleBaseline": "bottom"}},
                              "color": {"field": "form", "type": "nominal", "scale": {"domain": ["Native","Pseudophosphorylated"], "range": ["#3f3f8f","#e5525f"]}, "legend": null}}},
                {"data": {"name": "tags"}, "transform": [{"filter": "datum.panel === 'C3' && datum.part === 'num'"}], "mark": {"type": "text", "align": "right", "baseline": "alphabetic", "fontSize": 16},
                 "encoding": {"x": {"field": "s", "type": "quantitative", "axis": {"orient": "top", "values": [1,2,3,4,5,6,7,8,9], "labels": false, "title": null}},
                              "y": {"field": "c", "type": "quantitative", "axis": {"orient": "right", "values": [0,0.4,0.8,1.2], "labels": false, "title": null}},
                              "text": {"field": "text", "type": "nominal"},
                              "fill": {"field": "form", "type": "nominal", "scale": {"domain": ["Native","Pseudophosphorylated"], "range": ["#4f74b8","#e3202b"]}, "legend": null}}},
                {"data": {"name": "tags"}, "transform": [{"filter": "datum.panel === 'C3' && datum.part === 'unit'"}], "mark": {"type": "text", "align": "left", "baseline": "alphabetic", "fontSize": 16, "color": "#111"},
                 "encoding": {"x": {"field": "s", "type": "quantitative", "axis": null}, "y": {"field": "c", "type": "quantitative", "axis": null}, "text": {"field": "text", "type": "nominal"}}}
              ]
            },
            {
              "width": 229, "height": 77.5,
              "resolve": {"axis": {"x": "independent", "y": "independent"}},
              "layer": [
                {"data": {"values": [{}]}, "mark": {"type": "rule", "color": "#707070", "strokeWidth": 0.8}, "encoding": {"y": {"datum": 0, "type": "quantitative", "axis": null}}},
                {"data": {"name": "cs"}, "transform": [{"filter": "datum.panel === 'C4'"}], "mark": {"type": "line", "strokeWidth": 1.4, "interpolate": "monotone"},
                 "encoding": {"x": {"field": "s", "type": "quantitative", "scale": {"domain": [1, 9.4], "nice": false, "zero": false}, "axis": {"orient": "bottom", "values": [1,2,3,4,5,6,7,8,9], "labels": false, "title": null}},
                              "y": {"field": "c", "type": "quantitative", "scale": {"domain": [0, 3.25], "nice": false}, "axis": {"orient": "left", "values": [0,1,2,3], "title": null}},
                              "color": {"field": "form", "type": "nominal", "scale": {"domain": ["Native","Pseudophosphorylated"], "range": ["#3f3f8f","#e5525f"]}, "legend": null}}},
                {"data": {"name": "tags"}, "transform": [{"filter": "datum.panel === 'C4' && datum.part === 'num'"}], "mark": {"type": "text", "align": "right", "baseline": "alphabetic", "fontSize": 16},
                 "encoding": {"x": {"field": "s", "type": "quantitative", "axis": {"orient": "top", "values": [1,2,3,4,5,6,7,8,9], "labels": false, "title": null}},
                              "y": {"field": "c", "type": "quantitative", "axis": {"orient": "right", "values": [0,1,2,3], "labels": false, "title": null}},
                              "text": {"field": "text", "type": "nominal"},
                              "fill": {"field": "form", "type": "nominal", "scale": {"domain": ["Native","Pseudophosphorylated"], "range": ["#4f74b8","#e3202b"]}, "legend": null}}},
                {"data": {"name": "tags"}, "transform": [{"filter": "datum.panel === 'C4' && datum.part === 'unit'"}], "mark": {"type": "text", "align": "left", "baseline": "alphabetic", "fontSize": 16, "color": "#111"},
                 "encoding": {"x": {"field": "s", "type": "quantitative", "axis": null}, "y": {"field": "c", "type": "quantitative", "axis": null}, "text": {"field": "text", "type": "nominal"}}}
              ]
            },
            {
              "width": 229, "height": 77.5,
              "resolve": {"axis": {"x": "independent", "y": "independent"}},
              "layer": [
                {"data": {"values": [{}]}, "mark": {"type": "rule", "color": "#707070", "strokeWidth": 0.8}, "encoding": {"y": {"datum": 0, "type": "quantitative", "axis": null}}},
                {"data": {"name": "cs"}, "transform": [{"filter": "datum.panel === 'C5'"}], "mark": {"type": "line", "strokeWidth": 1.4, "interpolate": "monotone"},
                 "encoding": {"x": {"field": "s", "type": "quantitative", "scale": {"domain": [1, 9.4], "nice": false, "zero": false}, "axis": {"orient": "bottom", "values": [1,2,3,4,5,6,7,8,9], "labels": true, "title": null}},
                              "y": {"field": "c", "type": "quantitative", "scale": {"domain": [0, 1.72], "nice": false}, "axis": {"orient": "left", "values": [0,0.3,0.6,0.9,1.2,1.5], "format": ".1f", "title": null}},
                              "color": {"field": "form", "type": "nominal", "scale": {"domain": ["Native","Pseudophosphorylated"], "range": ["#3f3f8f","#e5525f"]}, "legend": null}}},
                {"data": {"name": "tags"}, "transform": [{"filter": "datum.panel === 'C5' && datum.part === 'num'"}], "mark": {"type": "text", "align": "right", "baseline": "alphabetic", "fontSize": 16},
                 "encoding": {"x": {"field": "s", "type": "quantitative", "axis": {"orient": "top", "values": [1,2,3,4,5,6,7,8,9], "labels": false, "title": null}},
                              "y": {"field": "c", "type": "quantitative", "axis": {"orient": "right", "values": [0,0.3,0.6,0.9,1.2,1.5], "labels": false, "title": null}},
                              "text": {"field": "text", "type": "nominal"},
                              "fill": {"field": "form", "type": "nominal", "scale": {"domain": ["Native","Pseudophosphorylated"], "range": ["#4f74b8","#e3202b"]}, "legend": null}}},
                {"data": {"name": "tags"}, "transform": [{"filter": "datum.panel === 'C5' && datum.part === 'unit'"}], "mark": {"type": "text", "align": "left", "baseline": "alphabetic", "fontSize": 16, "color": "#111"},
                 "encoding": {"x": {"field": "s", "type": "quantitative", "axis": null}, "y": {"field": "c", "type": "quantitative", "axis": null}, "text": {"field": "text", "type": "nominal"}}},
                {"data": {"name": "tags"}, "transform": [{"filter": "datum.panel === 'C5' && datum.part === 'xs'"}], "mark": {"type": "text", "align": "right", "baseline": "alphabetic", "fontSize": 20, "fontWeight": "bold", "color": "#111"},
                 "encoding": {"x": {"field": "s", "type": "quantitative", "axis": null}, "y": {"field": "c", "type": "quantitative", "axis": null}, "text": {"field": "text", "type": "nominal"}}},
                {"data": {"name": "tags"}, "transform": [{"filter": "datum.panel === 'C5' && datum.part === 'xsub'"}], "mark": {"type": "text", "align": "left", "baseline": "alphabetic", "fontSize": 11, "fontWeight": "bold", "color": "#111"},
                 "encoding": {"x": {"field": "s", "type": "quantitative", "axis": null}, "y": {"field": "c", "type": "quantitative", "axis": null}, "text": {"field": "text", "type": "nominal"}}},
                {"data": {"name": "tags"}, "transform": [{"filter": "datum.panel === 'C5' && datum.part === 'xunit'"}], "mark": {"type": "text", "align": "left", "baseline": "alphabetic", "fontSize": 17, "fontWeight": "bold", "color": "#111"},
                 "encoding": {"x": {"field": "s", "type": "quantitative", "axis": null}, "y": {"field": "c", "type": "quantitative", "axis": null}, "text": {"field": "text", "type": "nominal"}}}
              ]
            }
          ],
          "spacing": 6.6,
          "bounds": "flush"
        }
      ],
      "spacing": 55.5
    },
    {
      "resolve": {"scale": {"color": "independent", "stroke": "independent", "fill": "independent"}},
      "hconcat": [
        {
          "bounds": "flush",
          "spacing": 26,
          "hconcat": [
            {"width": 1, "height": 1, "view": {"stroke": null}, "data": {"values": [{}]}, "mark": {"type": "point", "opacity": 0}},
            {
              "width": 180, "height": 180,
              "resolve": {"axis": {"x": "independent", "y": "independent"}},
              "layer": [
                {"data": {"values": [{}]}, "mark": {"type": "rule", "color": "#b08c8c", "strokeWidth": 1}, "encoding": {"x": {"datum": 3.5e-5, "type": "quantitative", "axis": null}}},
                {"data": {"values": [{}]}, "mark": {"type": "rule", "color": "#9cbc92", "strokeWidth": 1}, "encoding": {"x": {"datum": 7.7e-4, "type": "quantitative", "axis": null}}},
                {"data": {"name": "fits"}, "mark": {"type": "line", "strokeWidth": 1.3, "interpolate": "monotone"},
                 "encoding": {"x": {"field": "conc", "type": "quantitative", "scale": {"type": "log", "domain": [1e-6, 1.6e-3], "nice": false},
                                    "axis": {"orient": "bottom", "values": [1e-6,2e-6,3e-6,4e-6,5e-6,6e-6,7e-6,8e-6,9e-6,1e-5,2e-5,3e-5,4e-5,5e-5,6e-5,7e-5,8e-5,9e-5,1e-4,2e-4,3e-4,4e-4,5e-4,6e-4,7e-4,8e-4,9e-4,1e-3],
                                             "labelExpr": "datum.value === 1e-6 ? '10⁻⁶' : datum.value === 1e-5 ? '10⁻⁵' : datum.value === 1e-4 ? '10⁻⁴' : datum.value === 1e-3 ? '10⁻³' : ''",
                                             "labelFontSize": 8.5, "title": "[Pleckstrin] (M)", "titleFontSize": 15, "titleFontWeight": "normal", "titleColor": "#222", "titlePadding": 3}},
                              "y": {"field": "sw", "type": "quantitative", "scale": {"domain": [3.0, 4.4], "nice": false, "zero": false},
                                    "axis": {"orient": "left", "values": [3.0,3.2,3.4,3.6,3.8,4.0,4.2,4.4], "format": ".1f", "title": null}},
                              "color": {"field": "form", "type": "nominal", "scale": {"domain": ["Native","Pseudophosphorylated"], "range": ["#8c2b2b","#3d8b3d"]}, "legend": null}}},
                {"data": {"name": "sw"}, "mark": {"type": "point", "shape": "circle", "filled": false, "size": 28, "strokeWidth": 1.1},
                 "encoding": {"x": {"field": "conc", "type": "quantitative",
                                    "axis": {"orient": "top", "values": [1e-6,2e-6,3e-6,4e-6,5e-6,6e-6,7e-6,8e-6,9e-6,1e-5,2e-5,3e-5,4e-5,5e-5,6e-5,7e-5,8e-5,9e-5,1e-4,2e-4,3e-4,4e-4,5e-4,6e-4,7e-4,8e-4,9e-4,1e-3], "labels": false, "title": null}},
                              "y": {"field": "sw", "type": "quantitative", "axis": {"orient": "right", "values": [3.0,3.2,3.4,3.6,3.8,4.0,4.2,4.4], "labels": false, "title": null}},
                              "stroke": {"field": "form", "type": "nominal", "scale": {"domain": ["Native","Pseudophosphorylated"], "range": ["#d43c3c","#3ec43e"]}, "legend": null}}},
                {"data": {"values": [{}]}, "mark": {"type": "text", "text": "B)", "align": "left", "baseline": "alphabetic", "fontSize": 20, "color": "#111"},
                 "encoding": {"x": {"datum": 3.62e-8, "type": "quantitative", "axis": null}, "y": {"datum": 4.314, "type": "quantitative", "axis": null}}},
                {"data": {"values": [{}]}, "mark": {"type": "text", "text": "Weight Avg S", "angle": 270, "align": "left", "baseline": "alphabetic", "fontSize": 14, "color": "#222"},
                 "encoding": {"x": {"datum": 2.29e-7, "type": "quantitative", "axis": null}, "y": {"datum": 3.241, "type": "quantitative", "axis": null}}},
                {"data": {"values": [{}]}, "mark": {"type": "text", "text": "20,w", "angle": 270, "align": "left", "baseline": "alphabetic", "fontSize": 10, "fontStyle": "italic", "color": "#222"},
                 "encoding": {"x": {"datum": 2.64e-7, "type": "quantitative", "axis": null}, "y": {"datum": 3.9, "type": "quantitative", "axis": null}}},
                {"data": {"values": [{}]}, "mark": {"type": "text", "text": "(S)", "angle": 270, "align": "left", "baseline": "alphabetic", "fontSize": 14, "color": "#222"},
                 "encoding": {"x": {"datum": 2.29e-7, "type": "quantitative", "axis": null}, "y": {"datum": 4.069, "type": "quantitative", "axis": null}}}
              ]
            }
          ]
        },
        {
          "width": 310, "height": 189,
          "view": {"stroke": null},
          "title": {"text": "D)", "orient": "left", "anchor": "end", "angle": 0, "align": "right", "baseline": "top", "fontSize": 20, "fontWeight": "normal", "color": "#111", "offset": -14},
          "data": {"name": "table"},
          "encoding": {
            "x": {"field": "col", "type": "nominal", "sort": ["Protein","SV","SE"], "axis": null, "scale": {"paddingInner": 0.012, "paddingOuter": 0}},
            "y": {"field": "row", "type": "nominal", "sort": ["Pleckstrin Protein","Native","Pseudophosphorylated"], "axis": null, "scale": {"paddingInner": 0.012, "paddingOuter": 0}}
          },
          "layer": [
            {"mark": {"type": "rect"}, "encoding": {"color": {"field": "row", "type": "nominal", "scale": {"domain": ["Pleckstrin Protein","Native","Pseudophosphorylated"], "range": ["#6599d0","#d7dcea","#ebeef4"]}, "legend": null}}},
            {"transform": [{"filter": "datum.row === 'Pleckstrin Protein'"}], "mark": {"type": "text", "fontSize": 12, "fontWeight": "bold", "color": "#1c2a48", "lineBreak": "\n", "lineHeight": 15}, "encoding": {"text": {"field": "text", "type": "nominal"}}},
            {"transform": [{"filter": "datum.row !== 'Pleckstrin Protein'"}], "mark": {"type": "text", "fontSize": 12, "color": "#3c3c3c", "lineBreak": "\n", "lineHeight": 15}, "encoding": {"text": {"field": "text", "type": "nominal"}}}
          ]
        }
      ],
      "spacing": 51.5
    }
  ],
  "spacing": 9
}
